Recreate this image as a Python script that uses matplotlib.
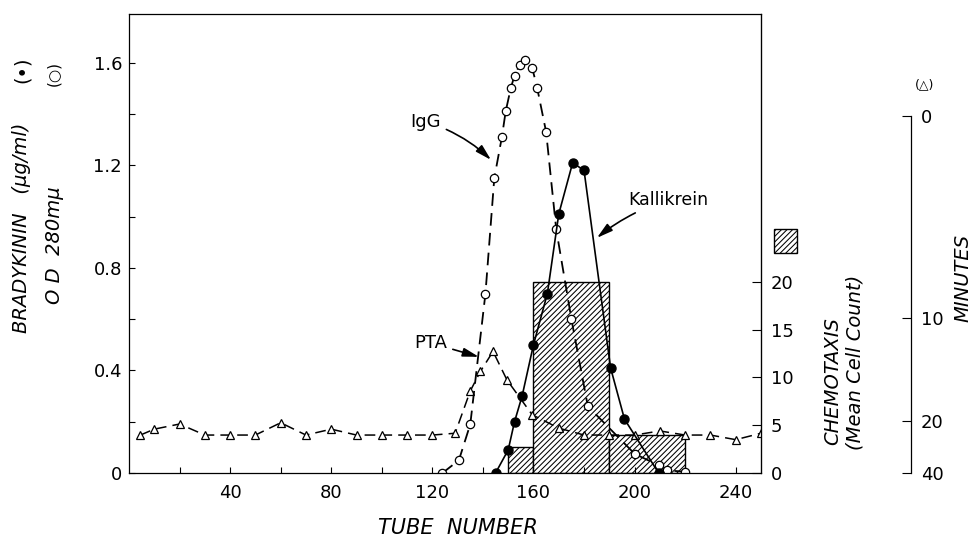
import numpy as np
import matplotlib
matplotlib.use("Agg")
import matplotlib.pyplot as plt
from matplotlib.patches import Rectangle

plt.rcParams['font.family'] = ['DejaVu Sans']
plt.rcParams['hatch.linewidth'] = 0.75

# IgG, OD 280 (open circles)
igg_tube = [124, 130.5, 135, 141, 144.5, 147.5, 149, 151, 152.5, 154.5, 156.5,
            159.5, 161.5, 165, 169, 175, 181.5, 200, 209.5, 213, 220]
igg_od = [0.0, 0.05, 0.19, 0.70, 1.15, 1.31, 1.41, 1.50, 1.55, 1.59, 1.61,
          1.58, 1.50, 1.33, 0.95, 0.60, 0.26, 0.075, 0.03, 0.01, 0.005]

# Kallikrein, bradykinin ug/ml (filled circles)
kal_tube = [145, 150, 152.5, 155.5, 160, 165.5, 170, 175.5, 180, 190.5, 196, 209.5]
kal_bk = [0.0, 0.09, 0.20, 0.30, 0.50, 0.70, 1.01, 1.21, 1.18, 0.41, 0.21, 0.0]

# PTA clotting time (triangles), height on the shared left scale
pta_tube = [4.5, 10, 20, 30, 40, 50, 60, 70, 80, 90, 100, 110, 120, 129,
            135, 139, 144, 149.5, 159.5, 170, 180, 190, 200, 210, 220, 230, 240, 250]
pta_val = [0.148, 0.171, 0.191, 0.148, 0.148, 0.148, 0.196, 0.148, 0.171, 0.148,
           0.148, 0.148, 0.148, 0.155, 0.32, 0.396, 0.474, 0.363, 0.227, 0.175,
           0.148, 0.148, 0.148, 0.164, 0.148, 0.148, 0.13, 0.155]

# chemotaxis bars
chemo_start = [150, 160, 190]
chemo_width = [10, 30, 30]
chemo_count = [2.7, 20, 4]

# minutes axis (non linear)
min_labels = ['0', '10', '20', '40']
min_pos = [1.393, 0.605, 0.203, 0.0]

W, H = 972, 539
fig = plt.figure(figsize=(W / 100, H / 100), dpi=100)
ax = fig.add_axes([129 / W, 1 - 473 / H, 632 / W, 459 / H])
ax2 = ax.twinx()
ax3 = ax.twinx()
ax.set_zorder(3)
ax.patch.set_visible(False)
ax2.set_zorder(1)
ax3.set_zorder(0)

ax2.bar(chemo_start, chemo_count, width=chemo_width, align='edge',
        facecolor='white', edgecolor='black', linewidth=1.0, hatch='//////')
ax2.set_ylim(0, 48.0)
ax2.set_yticks([0, 5, 10, 15, 20])
ax2.set_yticklabels(['0', '5', '10', '15', '20'])
ax2.tick_params(axis='y', direction='in', length=6.5, width=0.8, labelsize=13, pad=7)
for s in ['left', 'top', 'bottom']:
    ax2.spines[s].set_visible(False)
ax2.spines['right'].set_linewidth(0.8)

ax.plot(pta_tube, pta_val, color='black', lw=1.1, ls=(0, (7, 4)),
        marker='^', mfc='white', mec='black', ms=6, mew=0.9)
ax.plot(igg_tube, igg_od, color='black', lw=1.3, ls=(0, (7, 4)),
        marker='o', mfc='white', mec='black', ms=6, mew=0.9)
ax.plot(kal_tube, kal_bk, color='black', lw=1.2, ls='-',
        marker='o', mfc='black', mec='black', ms=6.5)

ax.set_xlim(0, 250)
ax.set_ylim(0, 1.79)
ax.set_xticks([40, 80, 120, 160, 200, 240])
ax.set_xticks([20, 60, 100, 140, 180, 220], minor=True)
ax.set_yticks([0, 0.4, 0.8, 1.2, 1.6])
ax.set_yticklabels(['0', '0.4', '0.8', '1.2', '1.6'])
ax.set_yticks([0.2, 0.6, 1.0, 1.4], minor=True)
ax.tick_params(which='both', direction='in', length=4.5, width=0.8,
               labelsize=13, top=False, right=False)
ax.tick_params(axis='x', pad=8)
ax.tick_params(axis='y', pad=5)
for s in ax.spines.values():
    s.set_linewidth(0.9)

ax3.set_ylim(0, 1.79)
ax3.spines['right'].set_position(('axes', (911 - 129) / 632))
ax3.spines['right'].set_bounds(0, 1.393)
ax3.spines['right'].set_linewidth(0.9)
for s in ['left', 'top', 'bottom']:
    ax3.spines[s].set_visible(False)
ax3.set_yticks(min_pos)
ax3.set_yticklabels(min_labels)
ax3.tick_params(axis='y', direction='in', length=6.5, width=0.8, labelsize=13, pad=7)

arrow = dict(arrowstyle='-|>,head_length=0.8,head_width=0.22', color='black',
             lw=1.2, mutation_scale=12, shrinkA=2, shrinkB=0)
ax.annotate('IgG', xy=(143.2, 1.221), xytext=(117.4, 1.37), ha='center', va='center',
            fontsize=13, arrowprops=dict(arrow, connectionstyle='arc3,rad=-0.12'))
ax.annotate('Kallikrein', xy=(185.1, 0.917), xytext=(197.4, 1.065), ha='left',
            va='center', fontsize=12.5, arrowprops=dict(arrow, connectionstyle='arc3,rad=0.1'))
ax.annotate('PTA', xy=(138.4, 0.453), xytext=(119.4, 0.507), ha='center', va='center',
            fontsize=13, arrowprops=dict(arrow, connectionstyle='arc3,rad=0'))

def ft(x, y, s, **kw):
    fig.text(x / W, 1 - y / H, s, ha='center', va='center', **kw)

ft(22, 228, 'BRADYKININ   (\u03bcg/ml)', rotation=90, style='italic', fontsize=14)
ft(22, 70, '(\u2022)', rotation=90, fontsize=14)
ft(54, 245, 'O D  280m\u03bc', rotation=90, style='italic', fontsize=14)
ft(54, 74, '(\u25cb)', rotation=90, fontsize=11)
ft(458, 528, 'TUBE  NUMBER', style='italic', fontsize=15)
ft(833, 381, 'CHEMOTAXIS', rotation=90, style='italic', fontsize=14)
ft(855, 362, '(Mean Cell Count)', rotation=90, style='italic', fontsize=14)
ft(963, 278, 'MINUTES', rotation=90, style='italic', fontsize=14)
ft(925, 85, '(\u25b3)', fontsize=9)

fig.add_artist(Rectangle((774 / W, 1 - 253 / H), 23 / W, 24 / H, transform=fig.transFigure,
                         facecolor='white', edgecolor='black', lw=1.0, hatch='//////'))

fig.savefig('out.png', dpi=100)
